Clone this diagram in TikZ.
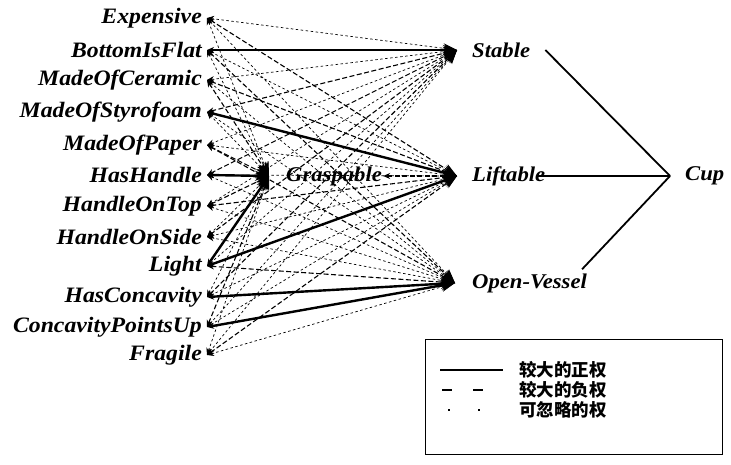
\documentclass[tikz,border=0pt]{standalone}
\usepackage{fontspec}
\setmainfont{Liberation Serif}
\newfontfamily\lblfont[FakeStretch=1.08]{Liberation Serif}
\newfontfamily\cjk{Noto Sans CJK SC}
\usetikzlibrary{positioning,arrows.meta,calc}
\tikzset{
  % --- nodes
  inp/.style   = {anchor=east, inner xsep=5pt, inner ysep=1pt,
                  font=\lblfont\fontsize{22}{24}\selectfont\bfseries\itshape},
  hid/.style   = {anchor=west, inner xsep=1pt, inner ysep=1pt,
                  font=\lblfont\fontsize{21}{23}\selectfont\bfseries\itshape},
  leg/.style   = {anchor=west, inner sep=1pt, font=\fontsize{17.5}{19}\selectfont\cjk\bfseries},
  % --- edges
  w/.style     = {{Stealth[length=7pt,width=6pt]}-{Stealth[length=14pt,width=10pt]}},
  wpos/.style  = {w, line width=2.4pt},
  wneg/.style  = {w, line width=1.1pt, dash pattern=on 5pt off 2.5pt},
  wng/.style   = {w, line width=0.7pt, dash pattern=on 2.5pt off 2.5pt},
  tocup/.style = {line width=1.8pt},
}
\begin{document}
\begin{tikzpicture}[x=1pt,y=-1pt]
  \useasboundingbox[fill=white] (0,0) rectangle (731,464);
  % inputs
  \foreach \n/\t/\y in {exp/Expensive/18, bif/BottomIsFlat/50, moc/MadeOfCeramic/80,
    mos/MadeOfStyrofoam/112, mop/MadeOfPaper/145, hh/HasHandle/175,
    hot/HandleOnTop/206, hos/HandleOnSide/237, lig/Light/266,
    hc/HasConcavity/297, cpu/ConcavityPointsUp/327, fra/Fragile/355}
    \node[inp] (\n) at (207,\y) {\t};
  % hidden layer
  \node[hid] (Graspable) at (285,176) {Graspable};
  \node[hid] (Stable)    at (471,50)  {Stable};
  \node[hid] (Liftable)  at (471,176) {Liftable};
  \node[hid] (Vessel)    at (471,283) {Open-Vessel};
  \node[hid] (Cup)       at (684,176) {Cup};
  % weights: G S L O
  \foreach \n/\g/\s/\l/\o in {
    exp/wng/wng/wneg/wng, bif/wng/wpos/wng/wneg, moc/wneg/wng/wneg/wng,
    mos/wng/wneg/wpos/wng, mop/wneg/wng/wng/wneg, hh/wpos/wneg/wng/wng,
    hot/wneg/wng/wneg/wng, hos/wng/wneg/wng/wng, lig/wpos/wng/wpos/wneg,
    hc/wng/wneg/wng/wpos, cpu/wneg/wng/wng/wpos, fra/wng/wng/wneg/wng}
  {
    \draw[\g] (\n.east) -- ([xshift=-16pt]Graspable.west);
    \draw[\s] (\n.east) -- ([xshift=-14pt]Stable.west);
    \draw[\l] (\n.east) -- ([xshift=-14pt]Liftable.west);
    \draw[\o] (\n.east) -- ([xshift=-16pt]Vessel.west);
  }
  \draw[wneg] (Graspable.east) -- ([xshift=-14pt]Liftable.west);
  % output
  \draw[tocup] ([xshift=14pt]Stable.east) -- ([xshift=-14pt]Cup.west);
  \draw[tocup] ([xshift=-8pt]Liftable.east) -- ([xshift=-14pt]Cup.west);
  \draw[tocup] ([xshift=-6pt,yshift=3pt]Vessel.north east) -- ([xshift=-14pt]Cup.west);
  % legend
  \node[draw, line width=1.6pt, minimum width=297pt, minimum height=115pt] (legend) at (574,397) {};
  \node[leg] (lp) at (518,370) {较大的正权};
  \node[leg] (ln) at (518,390) {较大的负权};
  \node[leg] (lz) at (518,410) {可忽略的权};
  \draw[line width=2.4pt] ([xshift=-78pt]lp.west) -- ([xshift=-15pt]lp.west);
  \draw[line width=2pt, dash pattern=on 10pt off 21pt] ([xshift=-76pt]ln.west) -- ([xshift=-29pt]ln.west);
  \draw[line width=1.5pt, dash pattern=on 2pt off 28pt] ([xshift=-70pt]lz.west) -- ([xshift=-34pt]lz.west);
\end{tikzpicture}
\end{document}
